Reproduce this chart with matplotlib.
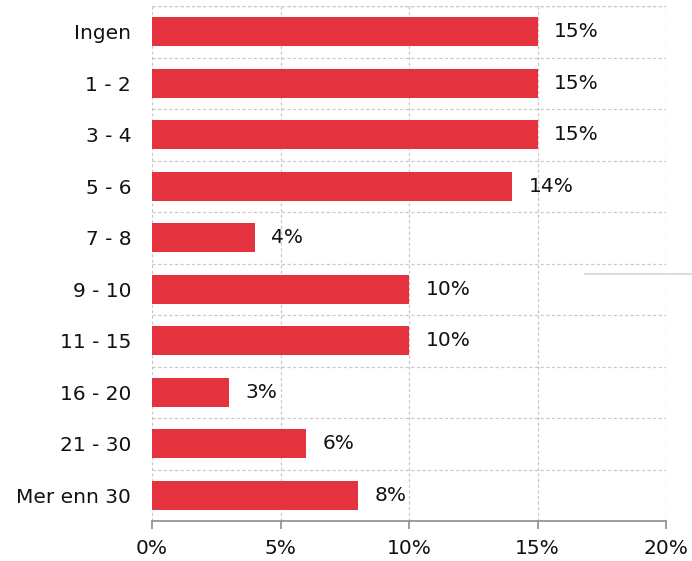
import matplotlib.pyplot as plt
from matplotlib.lines import Line2D
from matplotlib.ticker import MultipleLocator, FuncFormatter

categories = ["Ingen", "1 - 2", "3 - 4", "5 - 6", "7 - 8", "9 - 10",
              "11 - 15", "16 - 20", "21 - 30", "Mer enn 30"]
values = [15, 15, 15, 14, 4, 10, 10, 3, 6, 8]
x_ticks = [0, 5, 10, 15, 20]

BAR = "#E4323F"
GRID = "#c8c8c8"
TXT = "#111111"
FS = 14.5

fig = plt.figure(figsize=(6.92, 5.61), dpi=100)
ax = fig.add_axes([152 / 692, 1 - 521 / 561, (666 - 152) / 692, 515 / 561])

ys = list(range(len(categories)))
ax.barh(ys, values, height=0.57, color=BAR, zorder=2)
for y, v in zip(ys, values):
    ax.annotate(f"{v}%", xy=(v, y), xytext=(12, 0), textcoords="offset points",
                ha="left", va="center", fontsize=FS, color=TXT)

ax.set_xlim(0, 20)
ax.set_ylim(len(categories) - 0.5, -0.5)
ax.set_yticks(ys)
ax.set_yticklabels(categories, fontsize=FS, color=TXT)
ax.set_xticks(x_ticks)
ax.xaxis.set_major_formatter(FuncFormatter(lambda x, p: f"{x:.0f}%"))
ax.tick_params(axis="x", labelsize=FS, labelcolor=TXT, length=6,
               color="#8c8c8c", width=1.2, pad=7)
ax.tick_params(axis="y", length=0, pad=15)

# dashed grid: vertical at ticks, horizontal between categories
ax.yaxis.set_minor_locator(MultipleLocator(1, offset=0.5))
ax.tick_params(axis="y", which="minor", length=0)
ax.grid(axis="x", which="major", ls=(0, (2.5, 2)), color=GRID, lw=0.9, zorder=0)
ax.grid(axis="y", which="minor", ls=(0, (2.5, 2)), color=GRID, lw=0.9, zorder=0)
ax.axhline(-0.5, ls=(0, (2.5, 2)), color=GRID, lw=0.9, zorder=0)

for s in ("top", "right", "left"):
    ax.spines[s].set_visible(False)
ax.spines["bottom"].set_color("#8c8c8c")
ax.spines["bottom"].set_linewidth(1.2)

# stray legend-like line at right edge
fig.add_artist(Line2D([585 / 692, 1.0], [1 - 274 / 561] * 2,
                      color="#dcdcdc", lw=1.5))

fig.savefig("out.png", dpi=100)
